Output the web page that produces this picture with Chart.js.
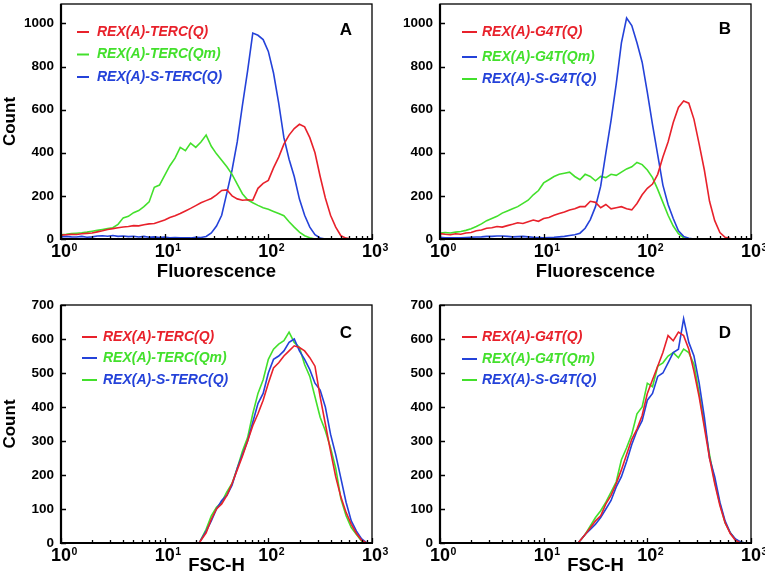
<!DOCTYPE html>
<html>
<head>
<meta charset="utf-8">
<script src="https://cdn.jsdelivr.net/npm/chart.js@4.4.0/dist/chart.umd.min.js"></script>
<style>
body{margin:0;background:#fff;width:765px;height:584px;position:relative;overflow:hidden}
canvas{position:absolute}
</style>
</head>
<body>
<canvas id="pA" width="400" height="290" style="left:0;top:0"></canvas>
<canvas id="pB" width="385" height="290" style="left:380px;top:0"></canvas>
<canvas id="pC" width="400" height="294" style="left:0;top:290px"></canvas>
<canvas id="pD" width="385" height="294" style="left:380px;top:290px"></canvas>
<script>
// bin positions (log spaced)
var fluorBins = [1, 1.122, 1.259, 1.413, 1.585, 1.778, 1.995, 2.239, 2.512, 2.818,
  3.162, 3.548, 3.981, 4.467, 5.012, 5.623, 6.310, 7.079, 7.943, 8.913,
  10, 11.22, 12.59, 14.13, 15.85, 17.78, 19.95, 22.39, 25.12, 28.18,
  31.62, 35.48, 39.81, 44.67, 50.12, 56.23, 63.10, 70.79, 79.43, 89.13,
  100, 112.2, 125.9, 141.3, 158.5, 177.8, 199.5, 223.9, 251.2, 281.8,
  316.2, 354.8, 398.1, 446.7, 501.2, 562.3, 631.0, 707.9, 794.3, 891.3, 1000];
var fscBins = [21.5, 25.12, 28.18, 31.62, 35.48, 39.81, 44.67, 50.12, 56.23, 63.10, 70.79, 79.43, 89.13,
  100, 112.2, 125.9, 141.3, 158.5, 177.8, 199.5, 223.9, 251.2, 281.8,
  316.2, 354.8, 398.1, 446.7, 501.2, 562.3, 631.0, 707.9, 794.3, 891.3];

// panel A - fluorescence, TERC
var aRed = [18, 20, 22, 21, 24, 26, 28, 33, 38, 44,
  48, 52, 56, 58, 62, 61, 66, 70, 72, 80,
  88, 100, 108, 118, 130, 142, 155, 168, 178, 188,
  205, 225, 228, 200, 186, 180, 182, 180, 235, 258,
  272, 330, 380, 440, 482, 512, 532, 520, 470, 400,
  290, 190, 110, 55, 15, 4, 0, 0, 0, 0, 0];
var aGreen = [20, 22, 25, 27, 29, 32, 36, 40, 44, 48,
  52, 68, 98, 105, 122, 132, 150, 172, 240, 250,
  295, 340, 375, 425, 410, 445, 425, 450, 482, 430,
  395, 365, 335, 300, 255, 210, 182, 168, 156, 145,
  138, 128, 118, 108, 80, 55, 32, 15, 6, 0,
  0, 0, 0, 0, 0, 0, 0, 0, 0, 0, 0];
var aBlue = [10, 12, 10, 9, 12, 8, 10, 14, 15, 13,
  16, 12, 14, 11, 13, 9, 12, 8, 10, 7,
  9, 6, 7, 5, 6, 5, 8, 7, 12, 28,
  60, 110, 214, 320, 450, 620, 780, 955, 945, 925,
  870, 770, 630, 470, 370, 290, 185, 110, 55, 20,
  5, 0, 0, 0, 0, 0, 0, 0, 0, 0, 0];

// panel B - fluorescence, G4T
var bRed = [25, 22, 20, 24, 22, 28, 30, 38, 42, 50,
  52, 58, 55, 62, 68, 75, 72, 80, 88, 82,
  95, 100, 110, 118, 125, 135, 140, 150, 150, 175,
  170, 145, 160, 140, 145, 150, 140, 135, 165, 205,
  235, 255, 300, 380, 450, 540, 610, 640, 630, 555,
  440, 320, 175, 85, 30, 8, 2, 0, 0, 0, 0];
var bBlue = [8, 6, 6, 5, 5, 7, 8, 9, 10, 12,
  12, 14, 14, 12, 10, 11, 12, 10, 8, 7,
  6, 7, 8, 10, 12, 16, 20, 27, 50, 90,
  150, 245, 400, 550, 720, 910, 1025, 990, 910, 820,
  680, 530, 390, 250, 160, 95, 38, 12, 3, 0,
  0, 0, 0, 0, 0, 0, 0, 0, 0, 0, 0];
var bGreen = [28, 30, 28, 32, 35, 40, 48, 58, 70, 85,
  95, 105, 120, 130, 140, 150, 165, 180, 205, 225,
  260, 275, 290, 300, 305, 310, 290, 275, 300, 290,
  270, 290, 285, 300, 295, 310, 325, 335, 355, 345,
  320, 285, 230, 170, 110, 60, 25, 6, 0, 0,
  0, 0, 0, 0, 0, 0, 0, 0, 0, 0, 0];

// panel C - FSC-H, TERC
var cRed = [0, 30, 70, 100, 115, 140, 175, 215, 255, 300, 345, 380, 420,
  470, 515, 530, 550, 565, 580, 575, 565, 545, 520, 430, 350, 270, 195, 135, 90, 55, 28, 8, 0];
var cGreen = [0, 40, 80, 105, 120, 150, 175, 220, 270, 310, 380, 440, 480,
  540, 570, 585, 595, 620, 590, 575, 525, 490, 430, 370, 330, 280, 220, 130, 80, 45, 25, 6, 0];
var cBlue = [0, 35, 65, 100, 125, 140, 170, 220, 260, 300, 355, 410, 440,
  500, 540, 550, 565, 590, 600, 565, 540, 510, 470, 450, 400, 320, 260, 190, 120, 65, 35, 12, 0];

// panel D - FSC-H, G4T
var dRed = [0, 25, 45, 65, 80, 115, 140, 175, 215, 260, 305, 335, 375,
  440, 480, 520, 560, 610, 595, 620, 610, 570, 505, 430, 340, 250, 175, 110, 60, 28, 8, 0, 0];
var dGreen = [0, 25, 50, 75, 95, 120, 150, 180, 245, 280, 320, 380, 400,
  470, 460, 520, 530, 550, 560, 545, 570, 560, 525, 440, 350, 260, 180, 115, 60, 30, 10, 2, 0];
var dBlue = [0, 25, 40, 55, 75, 100, 125, 165, 195, 240, 290, 330, 360,
  420, 440, 490, 500, 530, 560, 570, 660, 590, 550, 470, 370, 250, 195, 120, 65, 30, 12, 3, 0];

// legend texts
var legendA = ['REX(A)-TERC(Q)', 'REX(A)-TERC(Qm)', 'REX(A)-S-TERC(Q)'];
var legendB = ['REX(A)-G4T(Q)', 'REX(A)-G4T(Qm)', 'REX(A)-S-G4T(Q)'];
var decades = [0, 1, 2, 3];
var minorSteps = [2, 3, 4, 5, 6, 7, 8, 9];

var FONT = '"Liberation Sans", Arial, Helvetica, sans-serif';
var RED = '#e8212b', GREEN = '#43e02c', BLUE = '#2442d9';
Chart.defaults.font.family = FONT;
Chart.defaults.color = '#000';

function pts(bins, vals) {
  return bins.map(function(x, i) { return {x: x, y: vals[i]}; });
}

//draws the frame, inward ticks, 10^n labels, legend and panel letter
var decor = {
  id: 'decor',
  afterDraw: function(chart, args, o) {
    var ctx = chart.ctx, a = chart.chartArea;
    var xs = chart.scales.x, ys = chart.scales.y;
    ctx.save();
    ctx.strokeStyle = '#000';
    ctx.lineWidth = 1.3;
    ctx.beginPath();
    ys.ticks.forEach(function(t) {
      var py = Math.round(ys.getPixelForValue(t.value)) + 0.5;
      ctx.moveTo(a.left, py); ctx.lineTo(a.left + 5, py);
    });
    decades.forEach(function(d) {
      var px = Math.round(xs.getPixelForValue(Math.pow(10, d))) + 0.5;
      ctx.moveTo(px, a.bottom); ctx.lineTo(px, a.bottom - 5);
      if (d < 3) minorSteps.forEach(function(m) {
        var mx = Math.round(xs.getPixelForValue(m * Math.pow(10, d))) + 0.5;
        ctx.moveTo(mx, a.bottom); ctx.lineTo(mx, a.bottom - 3);
      });
    });
    ctx.stroke();
    ctx.lineWidth = 1.3;
    ctx.strokeRect(a.left, a.top, a.right - a.left, a.bottom - a.top);
    ctx.lineWidth = 2.2;
    ctx.beginPath();
    ctx.moveTo(a.left, a.top); ctx.lineTo(a.left, a.bottom); ctx.lineTo(a.right + 1, a.bottom);
    ctx.stroke();

    ctx.fillStyle = '#000';
    decades.forEach(function(d) {
      var px = xs.getPixelForValue(Math.pow(10, d));
      ctx.font = 'bold 18px ' + FONT;
      ctx.textAlign = 'center'; ctx.textBaseline = 'alphabetic';
      ctx.fillText('10', px, a.bottom + 18);
      var w = ctx.measureText('10').width;
      ctx.font = 'bold 10.5px ' + FONT;
      ctx.textAlign = 'left';
      ctx.fillText(String(d), px + w / 2 + 0.5, a.bottom + 12);
    });

    // legend inside the plot
    ctx.font = 'italic bold 14px ' + FONT;
    ctx.textBaseline = 'middle';
    ctx.lineWidth = 2;
    chart.data.datasets.forEach(function(ds, i) {
      var y = a.top + o.rows[i];
      ctx.strokeStyle = ds.borderColor;
      ctx.beginPath();
      ctx.moveTo(a.left + o.line[0], y); ctx.lineTo(a.left + o.line[1], y);
      ctx.stroke();
      ctx.fillStyle = o.textColors[i];
      ctx.textAlign = 'left';
      ctx.fillText(ds.label, a.left + o.text, y);
    });

    ctx.fillStyle = '#000';
    ctx.font = 'bold 17px ' + FONT;
    ctx.textAlign = 'center';
    ctx.fillText(o.letter, a.right - 26, a.top + o.letterDy);
    ctx.restore();
  }
};

function makePanel(id, p) {
  return new Chart(document.getElementById(id), {
    type: 'line',
    data: {
      datasets: p.series.map(function(s) {
        return {label: s[0], data: pts(p.bins, s[1]), borderColor: s[2], borderWidth: 1.6,
          pointRadius: 0, tension: 0, fill: false};
      })
    },
    options: {
      responsive: false, animation: false, events: [],
      layout: {padding: {top: p.top, right: p.right, left: 0, bottom: 0}},
      plugins: {
        legend: {display: false}, tooltip: {enabled: false},
        decor: {letter: p.letter, letterDy: p.letterDy, line: p.line, text: p.text, rows: p.rows, textColors: p.textColors}
      },
      scales: {
        x: {
          type: 'logarithmic', min: 1, max: 1000,
          grid: {display: false, drawTicks: false}, border: {display: false},
          ticks: {display: false},
          title: {display: true, text: p.xTitle, color: '#000', font: {size: 18.5, weight: 'bold'}, padding: {top: 0, bottom: 7}},
          afterFit: function(s) { s.height = p.xh; s.paddingLeft = 0; s.paddingRight = 0; }
        },
        y: {
          min: 0, max: p.ymax,
          grid: {display: false, drawTicks: false}, border: {display: false},
          ticks: {stepSize: p.step, includeBounds: false, color: '#000', padding: 7, font: {size: 13.5, weight: 'bold'},
            callback: function(v) { return String(v); }},
          title: {display: p.countTitle, text: 'Count', color: '#000', font: {size: 17, weight: 'bold'}, padding: {top: 0, bottom: 0}},
          afterFit: function(s) { s.width = p.yw; s.paddingTop = 0; s.paddingBottom = 0; }
        }
      }
    },
    plugins: [decor]
  });
}

makePanel('pA', {bins: fluorBins, letter: 'A', letterDy: 26, top: 4, right: 28, xh: 51, yw: 61, ymax: 1090, step: 200,
  xTitle: 'Fluorescence', countTitle: true, line: [16, 28], text: 36, rows: [28, 50.5, 73],
  textColors: [RED, GREEN, BLUE],
  series: [[legendA[0], aRed, RED], [legendA[1], aGreen, GREEN], [legendA[2], aBlue, BLUE]]});
makePanel('pB', {bins: fluorBins, letter: 'B', letterDy: 25, top: 4, right: 14, xh: 51, yw: 60, ymax: 1090, step: 200,
  xTitle: 'Fluorescence', countTitle: false, line: [22, 37], text: 42, rows: [28, 53, 75],
  textColors: [RED, GREEN, BLUE],
  series: [[legendB[0], bRed, RED], [legendB[1], bBlue, BLUE], [legendB[2], bGreen, GREEN]]});
makePanel('pC', {bins: fscBins, letter: 'C', letterDy: 28, top: 15, right: 28, xh: 41, yw: 61, ymax: 700, step: 100,
  xTitle: 'FSC-H', countTitle: true, line: [21, 36], text: 42, rows: [32, 53, 75],
  textColors: [RED, GREEN, BLUE],
  series: [[legendA[0], cRed, RED], [legendA[1], cBlue, BLUE], [legendA[2], cGreen, GREEN]]});
makePanel('pD', {bins: fscBins, letter: 'D', letterDy: 28, top: 15, right: 14, xh: 41, yw: 60, ymax: 700, step: 100,
  xTitle: 'FSC-H', countTitle: false, line: [22, 37], text: 42, rows: [32, 54, 75],
  textColors: [RED, GREEN, BLUE],
  series: [[legendB[0], dRed, RED], [legendB[1], dBlue, BLUE], [legendB[2], dGreen, GREEN]]});
</script>
</body>
</html>
